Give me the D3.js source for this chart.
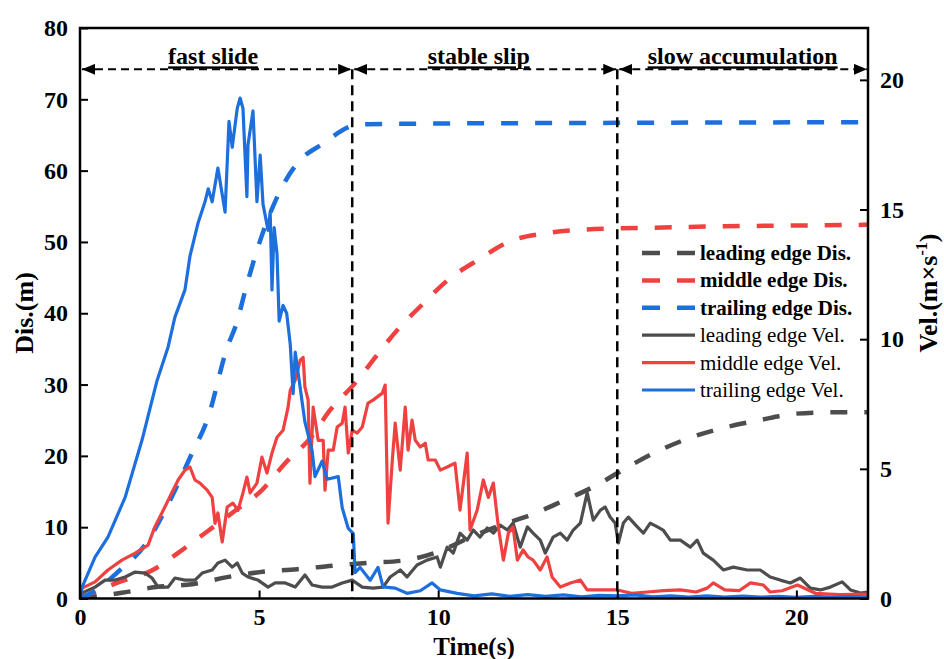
<!DOCTYPE html>
<html>
<head>
<meta charset="utf-8">
<script src="https://cdn.jsdelivr.net/npm/d3@7"></script>
<style>
  body { margin: 0; background: #fff; }
  text { font-family: "Liberation Serif", "Times New Roman", serif; }
</style>
</head>
<body>
<div id="chart"></div>
<script>
// ---- data (time in s, Dis in m, Vel in m/s) ----
var timeTicks = [0, 5, 10, 15, 20];
var disTicks = [0, 10, 20, 30, 40, 50, 60, 70, 80];
var velTicks = [0, 5, 10, 15, 20];
var phaseBounds = [0, 7.6, 15, 22];
var phaseNames = ["fast slide", "stable slip", "slow accumulation"];
var phaseArrowDis = 74.2;

var leadDis = [[0,0],[1.17,0.8],[2.12,1.6],[3.13,2.0],[4.11,3.0],[5.03,3.7],[6.06,4.1],[7.04,4.6],
  [8.02,5.0],[8.99,5.3],[9.92,6.4],[10.9,8.6],[11.7,10.2],[12.63,11.8],[13.49,13.7],[14.39,15.8],
  [15.28,18.4],[16.15,20.7],[17.07,22.6],[18.02,24.0],[18.97,25.0],[19.94,25.9],[20.89,26.1],[22,26.1]];

var midDis = [[0,0],[1.03,2.2],[2.07,4.1],[2.74,6.4],[3.58,9.5],[4.33,12.3],[5.08,15.2],[5.75,19.1],
  [6.45,22.6],[6.98,26.4],[7.68,30.2],[8.27,34.0],[8.85,37.6],[9.55,41.2],[10.28,44.7],[11.12,47.5],
  [12.01,50.1],[12.99,51.2],[13.97,51.7],[14.94,51.9],[15.98,52.0],[18,52.2],[20,52.3],[22,52.4]];

var trailDis = [[0,0],[0.5,1.3],[1.03,3.6],[1.87,7.9],[2.5,13.6],[3.13,20.4],[3.55,25.0],[4.13,35.5],
  [4.33,38.0],[4.69,44.6],[4.94,48.8],[5.59,57.2],[6.06,61.0],[6.79,63.8],[7.63,66.3],[8.04,66.5],
  [10,66.6],[15,66.7],[22,66.8]];

var leadVel = [[0,0.1],[0.06,0.21],[0.42,0.44],[0.7,0.71],[0.98,0.71],[1.26,0.83],[1.54,1.02],[1.82,0.98],
  [2.01,0.79],[2.18,0.44],[2.46,0.44],[2.65,0.79],[2.93,0.71],[3.21,0.71],[3.41,0.98],[3.69,1.1],
  [3.85,1.37],[4.05,1.48],[4.25,1.21],[4.39,1.37],[4.53,0.98],[4.69,0.83],[4.97,0.71],[5.25,0.44],
  [5.45,0.6],[5.73,0.6],[6.01,0.44],[6.28,0.91],[6.48,0.52],[6.76,0.44],[7.04,0.44],[7.32,0.6],
  [7.6,0.71],[7.88,0.44],[8.18,0.4],[8.46,0.44],[8.66,0.83],[8.94,1.1],[9.13,0.83],[9.41,1.29],
  [9.69,1.48],[9.97,1.6],[10.06,1.21],[10.25,1.98],[10.42,1.75],[10.61,2.52],[10.81,2.25],[10.98,2.64],
  [11.17,2.37],[11.37,2.72],[11.54,2.52],[11.73,2.83],[11.93,2.64],[12.09,2.91],[12.29,1.98],[12.49,2.76],
  [12.65,2.52],[12.85,2.25],[12.99,1.75],[13.21,2.37],[13.41,2.52],[13.6,2.25],[13.77,2.64],[13.97,2.91],
  [14.16,4.07],[14.33,3.02],[14.53,3.41],[14.66,3.53],[14.8,3.14],[14.94,2.91],[15.03,2.14],[15.17,2.91],
  [15.31,3.14],[15.56,2.76],[15.73,2.52],[15.92,2.91],[16.12,2.76],[16.28,2.64],[16.48,2.25],[16.76,2.25],
  [17.04,1.98],[17.23,2.25],[17.4,1.75],[17.68,1.48],[17.96,1.1],[18.24,1.21],[18.63,1.1],[18.99,1.1],
  [19.27,0.83],[19.55,0.71],[19.83,0.6],[20.11,0.79],[20.39,0.4],[20.67,0.33],[20.95,0.44],[21.28,0.64],
  [21.51,0.33],[21.79,0.21],[22,0.25]];

var midVel = [[0,0.1],[0.06,0.4],[0.42,0.64],[0.78,1.1],[1.17,1.48],[1.54,1.75],[1.9,2.06],[2.09,2.76],
  [2.37,3.53],[2.57,4.1],[2.74,4.57],[2.93,4.95],[3.07,5.07],[3.21,4.57],[3.35,4.45],[3.55,4.18],
  [3.69,3.9],[3.77,2.9],[3.85,3.3],[3.97,2.18],[4.11,3.53],[4.27,3.68],[4.41,3.4],[4.55,4.07],
  [4.66,4.68],[4.75,4.07],[4.94,4.45],[5.08,5.45],[5.22,4.84],[5.36,5.61],[5.5,6.22],[5.67,6.49],
  [5.81,7.38],[5.87,8.03],[6.01,8.42],[6.15,9.19],[6.23,9.3],[6.28,8.15],[6.37,7.65],[6.42,4.45],
  [6.51,7.38],[6.65,6.1],[6.79,6.1],[6.84,4.18],[6.93,5.72],[7.07,5.72],[7.18,6.61],[7.32,6.76],
  [7.4,7.38],[7.49,5.61],[7.6,6.49],[7.74,6.38],[7.88,6.61],[8.04,7.53],[8.18,7.65],[8.44,7.92],
  [8.52,8.23],[8.6,2.91],[8.72,5.34],[8.8,6.76],[8.94,4.95],[9.08,7.38],[9.16,5.72],[9.27,6.88],
  [9.36,6.1],[9.5,5.84],[9.64,5.99],[9.72,5.34],[9.92,5.34],[10.06,4.95],[10.25,5.07],[10.47,5.22],
  [10.61,3.41],[10.81,5.61],[10.89,2.64],[11.09,3.41],[11.26,4.57],[11.4,3.9],[11.54,4.45],[11.68,2.76],
  [11.82,1.48],[11.96,2.52],[12.09,2.76],[12.21,1.48],[12.37,1.87],[12.51,1.6],[12.65,1.48],[12.85,1.1],
  [13.04,1.6],[13.18,0.83],[13.41,0.44],[13.69,0.6],[13.97,0.71],[14.16,0.33],[14.53,0.33],[15.0,0.33],
  [15.4,0.2],[15.84,0.25],[16.3,0.3],[16.76,0.33],[17.2,0.25],[17.51,0.4],[17.68,0.6],[18.0,0.33],
  [18.4,0.3],[18.72,0.6],[19.08,0.52],[19.27,0.25],[19.6,0.3],[20.03,0.52],[20.53,0.2],[21.2,0.15],[22,0.17]];

var trailVel = [[0,0],[0.06,0.44],[0.42,1.6],[0.78,2.37],[1.26,3.9],[1.73,6.1],[2.15,8.4],[2.46,9.7],
  [2.65,10.85],[2.93,11.9],[3.07,13.2],[3.3,14.5],[3.49,15.3],[3.58,15.8],[3.69,15.3],[3.85,16.6],
  [4.05,14.9],[4.16,18.4],[4.25,17.4],[4.39,18.9],[4.47,19.3],[4.55,18.9],[4.66,15.5],[4.69,17.5],
  [4.83,18.8],[4.94,15.3],[5.03,17.1],[5.11,15.2],[5.25,14.2],[5.31,14.9],[5.36,11.9],[5.42,14.3],
  [5.5,13.3],[5.56,10.7],[5.67,11.3],[5.77,11.0],[5.87,9.8],[5.95,7.9],[6.01,9.5],[6.28,6.8],
  [6.48,5.7],[6.56,4.7],[6.76,5.3],[6.9,4.6],[7.21,4.7],[7.32,3.5],[7.49,2.7],[7.63,2.5],
  [7.68,1.0],[7.82,1.2],[8.1,0.7],[8.32,1.2],[8.46,0.45],[8.8,0.4],[9.13,0.2],[9.5,0.3],
  [9.83,0.6],[10.06,0.33],[10.53,0.2],[11,0.1],[11.5,0.18],[12,0.08],[12.5,0.15],[13,0.08],
  [13.5,0.14],[14,0.06],[14.5,0.12],[15,0.1],[15.5,0.14],[16,0.06],[16.5,0.1],[17,0.05],
  [17.5,0.1],[18,0.05],[18.5,0.09],[19,0.05],[19.5,0.08],[20,0.04],[20.5,0.08],[21,0.04],[21.5,0.07],[22,0.05]];

var seriesNames = ["leading edge Dis.", "middle edge Dis.", "trailing edge Dis.",
                   "leading edge Vel.", "middle edge Vel.", "trailing edge Vel."];
var colors = ["#4d4d4d", "#f04141", "#1c6fdd"];

// ---- layout ----
var margin = {left: 80, right: 76, top: 28, bottom: 60.5};
var fullW = 944, fullH = 659;
var width = fullW - margin.left - margin.right;
var height = fullH - margin.top - margin.bottom;

var x = d3.scaleLinear().domain([0, 22]).range([0, width]);
var yDis = d3.scaleLinear().domain([0, 80]).range([height, 0]);
var yVel = d3.scaleLinear().domain([0, 22]).range([height, 0]);

var svg = d3.select("#chart")
    .append("svg")
    .attr("width", fullW)
    .attr("height", fullH)
    .append("g")
    .attr("transform", "translate(" + margin.left + "," + margin.top + ")");

svg.append("clipPath").attr("id", "plotClip")
    .append("rect").attr("x", 0).attr("y", -2).attr("width", width).attr("height", height + 2);

var defs = svg.append("defs");
defs.append("marker")
    .attr("id", "arrow")
    .attr("markerUnits", "userSpaceOnUse")
    .attr("markerWidth", 13).attr("markerHeight", 11)
    .attr("refX", 13).attr("refY", 5.5)
    .attr("orient", "auto-start-reverse")
    .append("path")
    .attr("d", "M0,0 L13,5.5 L0,11 Z")
    .attr("fill", "#000");

var plot = svg.append("g").attr("clip-path", "url(#plotClip)");

var disLine = d3.line().x(d => x(d[0])).y(d => yDis(d[1])).curve(d3.curveMonotoneX);
var velLine = d3.line().x(d => x(d[0])).y(d => yVel(d[1]));

// displacement (dashed)
[leadDis, midDis, trailDis].forEach(function(s, i) {
    plot.append("path")
        .datum(s)
        .attr("d", disLine)
        .attr("fill", "none")
        .attr("stroke", colors[i])
        .attr("stroke-width", 4.5)
        .attr("stroke-dasharray", "17,17");
});

// velocity (solid)
[leadVel, midVel, trailVel].forEach(function(s, i) {
    plot.append("path")
        .datum(s)
        .attr("d", velLine)
        .attr("fill", "none")
        .attr("stroke", colors[i])
        .attr("stroke-width", 3.2)
        .attr("stroke-linejoin", "round");
});

// phase boundaries
var yArrow = yDis(phaseArrowDis);
svg.selectAll(".phaseV")
    .data(phaseBounds.slice(1, 3))
    .enter().append("line")
    .attr("x1", d => x(d)).attr("x2", d => x(d))
    .attr("y1", yArrow).attr("y2", height)
    .attr("stroke", "#000").attr("stroke-width", 2.5)
    .attr("stroke-dasharray", "10,6");

var labelShift = [-3, -6, 0];
for (var i = 0; i < 3; i++) {
    svg.append("line")
        .attr("x1", x(phaseBounds[i]) + 2).attr("x2", x(phaseBounds[i + 1]) - 1)
        .attr("y1", yArrow).attr("y2", yArrow)
        .attr("stroke", "#000").attr("stroke-width", 2)
        .attr("stroke-dasharray", "8,5")
        .attr("marker-start", "url(#arrow)")
        .attr("marker-end", "url(#arrow)");
    svg.append("text")
        .attr("x", x((phaseBounds[i] + phaseBounds[i + 1]) / 2) + labelShift[i])
        .attr("y", yArrow - 5)
        .attr("text-anchor", "middle")
        .style("font-size", "24px")
        .style("font-weight", "bold")
        .style("text-decoration", "underline")
        .text(phaseNames[i]);
}

// axes
var axisW = 2.5;
var xAxis = d3.axisBottom(x).tickValues(timeTicks).tickSize(-8).tickPadding(9);
var yAxisL = d3.axisLeft(yDis).tickValues(disTicks).tickSize(-8).tickPadding(12);
var yAxisR = d3.axisRight(yVel).tickValues(velTicks).tickSize(-8).tickPadding(12);

function styleAxis(g) {
    g.select(".domain").remove();
    g.selectAll(".tick line").attr("stroke", "#000").attr("stroke-width", 2);
    g.selectAll(".tick text")
        .style("font-family", "'Liberation Serif', serif")
        .style("font-size", "24px")
        .style("font-weight", "bold")
        .attr("fill", "#000");
}

svg.append("g").attr("class", "x axis")
    .attr("transform", "translate(0," + height + ")")
    .call(xAxis).call(styleAxis);
svg.append("g").attr("class", "y axis")
    .call(yAxisL).call(styleAxis);
svg.append("g").attr("class", "y2 axis")
    .attr("transform", "translate(" + width + ",0)")
    .call(yAxisR).call(styleAxis);

// frame
svg.append("rect")
    .attr("x", 0).attr("y", 0)
    .attr("width", width).attr("height", height)
    .attr("fill", "none").attr("stroke", "#000").attr("stroke-width", axisW);

// axis titles
svg.append("text")
    .attr("x", x(11)).attr("y", height + 56)
    .attr("text-anchor", "middle")
    .style("font-size", "25px").style("font-weight", "bold")
    .text("Time(s)");

svg.append("text")
    .attr("transform", "rotate(-90)")
    .attr("x", -(313 - margin.top)).attr("y", 24 - margin.left + 9)
    .attr("text-anchor", "middle")
    .style("font-size", "26px").style("font-weight", "bold")
    .text("Dis.(m)");

var rt = svg.append("text")
    .attr("transform", "rotate(-90)")
    .attr("x", -(293 - margin.top)).attr("y", 928 - margin.left + 9)
    .attr("text-anchor", "middle")
    .style("font-size", "26px").style("font-weight", "bold");
rt.append("tspan").text("Vel.(m×s");
rt.append("tspan").attr("dy", -10).style("font-size", "16px").text("-1");
rt.append("tspan").attr("dy", 10).text(")");

// legend
var legX = 642 - margin.left, legY = 253 - margin.top, legStep = 27.4;
seriesNames.forEach(function(name, i) {
    var yy = legY + i * legStep;
    var dashed = i < 3;
    svg.append("line")
        .attr("x1", legX).attr("x2", legX + 53)
        .attr("y1", yy).attr("y2", yy)
        .attr("stroke", colors[i % 3])
        .attr("stroke-width", dashed ? 4.5 : 3.2)
        .attr("stroke-dasharray", dashed ? "18,17" : null);
    svg.append("text")
        .attr("x", legX + 58).attr("y", yy + 7)
        .style("font-size", "21px")
        .style("font-weight", dashed ? "bold" : "normal")
        .text(name);
});
</script>
</body>
</html>
